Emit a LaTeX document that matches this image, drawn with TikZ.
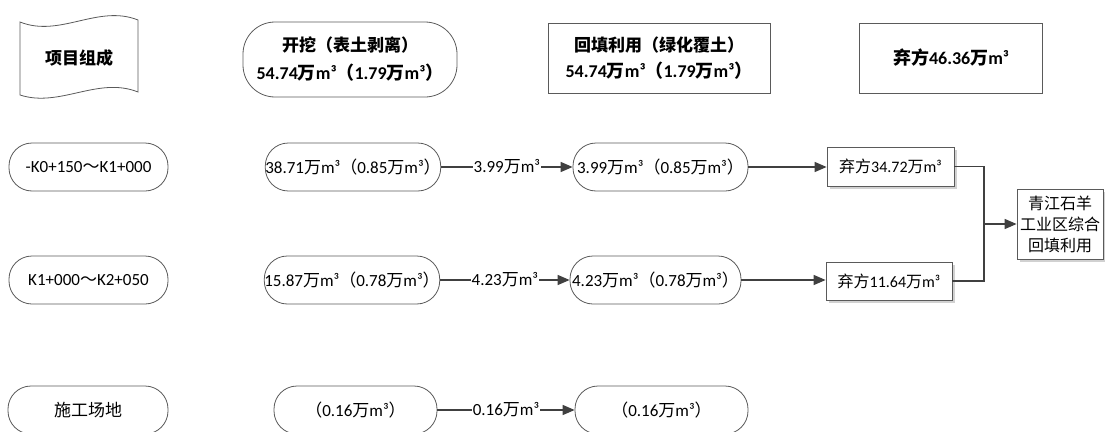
\documentclass[tikz,border=0pt]{standalone}
\usepackage{fontspec}
\setmainfont{Carlito}
\newfontfamily\cjk{Noto Sans CJK SC}
\usetikzlibrary{arrows.meta,shadows}
\newcommand{\cwan}{{\cjk 万}}
\newcommand{\clp}{{\cjk （}}
\newcommand{\crp}{{\cjk ）}}
\definecolor{edgegray}{HTML}{5A5A5A}
\definecolor{linegray}{HTML}{404040}
\tikzset{
  stad/.style={draw=edgegray, line width=0.8pt, rounded corners=23pt, minimum height=48pt, inner sep=0pt, font=\fontsize{17}{20}\selectfont},
  hstad/.style={draw=edgegray, line width=0.8pt, rounded corners=32pt, minimum height=75pt, minimum width=214pt, inner sep=0pt, align=center, font=\bfseries\fontsize{18}{28}\selectfont},
  hbox/.style={draw=edgegray, line width=0.8pt, minimum height=70pt, inner sep=0pt, align=center, font=\bfseries\fontsize{18}{26}\selectfont},
  sbox/.style={draw=edgegray, fill=white, line width=0.8pt, inner sep=0pt, font=\fontsize{16}{19}\selectfont,
    drop shadow={shadow xshift=3pt, shadow yshift=-3pt, fill=black!18, opacity=1}},
  conn/.style={draw=linegray, line width=1.5pt, -{Triangle[length=12pt,width=10pt]}},
  plain/.style={draw=linegray, line width=1.5pt},
  lbl/.style={fill=white, inner sep=1pt, font=\fontsize{17}{20}\selectfont}
}
\begin{document}
\begin{tikzpicture}[x=1pt,y=-1pt]
\useasboundingbox (0,0) rectangle (1105,431);
\clip (0,0) rectangle (1105,431);
% header
\draw[draw=edgegray, line width=0.8pt] (20,22) .. controls (60,38) and (98,4) .. (138,20) -- (138,92) .. controls (98,76) and (60,108) .. (20,95) -- cycle;
\node[font=\cjk\bfseries\fontsize{17}{20}\selectfont] (T) at (79,58) {项目组成};
\node[hstad] (H2) at (350,59.5) {{\cjk\fontsize{17}{28}\selectfont 开挖（表土剥离）}\\54.74\cwan m³\clp 1.79\cwan m³\crp};
\node[hbox, minimum width=222pt] (H3) at (659,58) {{\cjk\fontsize{17}{28}\selectfont 回填利用（绿化覆土）}\\54.74\cwan m³\clp 1.79\cwan m³\crp};
\node[hbox, minimum width=183pt] (H4) at (951,58) {{\cjk 弃方}46.36\cwan m³};
% row 1
\node[stad, minimum width=159pt] (A1) at (88.5,167) {-K0+150{\cjk ～}K1+000};
\node[stad, minimum width=172pt] (B1) at (353,167) {38.71\cwan m³\clp 0.85\cwan m³\crp};
\node[stad, minimum width=175pt] (C1) at (660.5,167) {3.99\cwan m³\clp 0.85\cwan m³\crp};
\node[sbox, minimum width=127pt, minimum height=39pt] (D1) at (890.5,166.5) {{\cjk 弃方}34.72\cwan m³};
% row 2
\node[stad, minimum width=159pt] (A2) at (88.5,280) {K1+000{\cjk ～}K2+050};
\node[stad, minimum width=170pt] (B2) at (352,280) {15.87\cwan m³\clp 0.78\cwan m³\crp};
\node[stad, minimum width=171pt] (C2) at (655.5,280) {4.23\cwan m³\clp 0.78\cwan m³\crp};
\node[sbox, minimum width=126pt, minimum height=38pt] (D2) at (889,281) {{\cjk 弃方}11.64\cwan m³};
% row 3
\node[stad, minimum width=160pt] (A3) at (88,410) {{\cjk 施工场地}};
\node[stad, minimum width=163pt] (B3) at (355.5,410) {\clp 0.16\cwan m³\crp};
\node[stad, minimum width=173pt] (C3) at (661.5,410) {\clp 0.16\cwan m³\crp};
% final
\node[sbox, align=center, font=\cjk\fontsize{16}{21}\selectfont, minimum width=86pt, minimum height=70pt] (F) at (1060,224) {青江石羊\\工业区综合\\回填利用};
% connectors
\draw[conn] (B1.east) -- node[lbl]{3.99\cwan m³} (C1.west);
\draw[conn] (B2.east) -- node[lbl]{4.23\cwan m³} (C2.west);
\draw[conn] (B3.east) -- node[lbl]{0.16\cwan m³} (C3.west);
\draw[conn] (C1.east) -- (D1.west |- C1.east);
\draw[conn] (C2.east) -- (D2.west |- C2.east);
\coordinate (J) at (984,224);
\draw[plain] (D1.east) -| (J);
\draw[plain] (D2.east) -| (J);
\draw[conn] (J) -- (F.west);
\end{tikzpicture}
\end{document}
